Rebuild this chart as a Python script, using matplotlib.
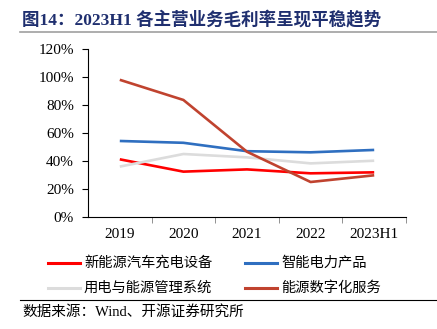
import matplotlib
matplotlib.use("Agg")
import matplotlib.pyplot as plt
from matplotlib.lines import Line2D

plt.rcParams['font.family'] = ['Liberation Serif', 'Noto Sans CJK SC', 'DejaVu Sans']

# 数据
years = ["2019", "2020", "2021", "2022", "2023H1"]
charging = [41.2, 32.4, 34.0, 31.2, 31.9]      # 新能源汽车充电设备
smart_power = [54.3, 53.0, 47.0, 46.2, 47.9]   # 智能电力产品
energy_mgmt = [36.0, 45.0, 42.6, 38.3, 40.2]   # 用电与能源管理系统
digital = [98.0, 83.6, 46.6, 25.0, 29.8]       # 能源数字化服务

names = ["新能源汽车充电设备", "智能电力产品", "用电与能源管理系统", "能源数字化服务"]
colors = ["#FF0000", "#2F6FC0", "#DCDCDC", "#C0432F"]
series = [charging, smart_power, energy_mgmt, digital]

W, H = 437, 329
fig = plt.figure(figsize=(W / 100, H / 100), dpi=100)
ax = fig.add_axes([88 / W, 1 - 217 / H, 318 / W, 168 / H])

x = list(range(len(years)))
for vals, c in zip(series, colors):
    ax.plot(x, vals, color=c, lw=1.9, solid_capstyle='butt')

ax.set_xlim(-0.5, 4.5)
ax.set_ylim(0, 120)
ax.set_yticks(range(0, 121, 20))
ax.set_yticklabels([f"{v}%" for v in range(0, 121, 20)], fontsize=11)
ax.set_xticks(x)
ax.set_xticklabels(years, fontsize=11)
ax.set_xticks([i + 0.5 for i in x], minor=True)
ax.tick_params(axis='x', which='major', length=0, pad=8)
ax.tick_params(axis='x', which='minor', length=4, color='#808080', direction='out')
ax.tick_params(axis='y', length=4, direction='out', pad=6)
for s in ['top', 'right']:
    ax.spines[s].set_visible(False)

# 标题
fig.text(22 / W, 1 - 20 / H, "图14：2023H1 各主营业务毛利率呈现平稳趋势", fontsize=12.6,
         fontweight='bold', color='#1F2F6F', va='center',
         family=['Liberation Serif', 'Noto Sans CJK SC'])
fig.add_artist(Line2D([20 / W, 1.0], [1 - 32 / H] * 2, color='#A0A0A0', lw=1.2))

# 图例（两列）
legend_pos = [(48, 263), (245, 263), (48, 288), (245, 288)]
for (px, py), name, c in zip(legend_pos, names, colors):
    fig.add_artist(Line2D([px / W, (px + 32) / W], [1 - py / H] * 2, color=c, lw=2.2))
    fig.text((px + 36) / W, 1 - py / H, name, fontsize=10.3, va='center',
             family='Noto Sans CJK SC')

fig.add_artist(Line2D([20 / W, 1.0], [1 - 300 / H] * 2, color='black', lw=0.8))
fig.text(22 / W, 1 - 312 / H, "数据来源：Wind、开源证券研究所", fontsize=10.5, va='center',
         family=['Liberation Serif', 'Noto Sans CJK SC'])

fig.savefig("out.png", dpi=100)
